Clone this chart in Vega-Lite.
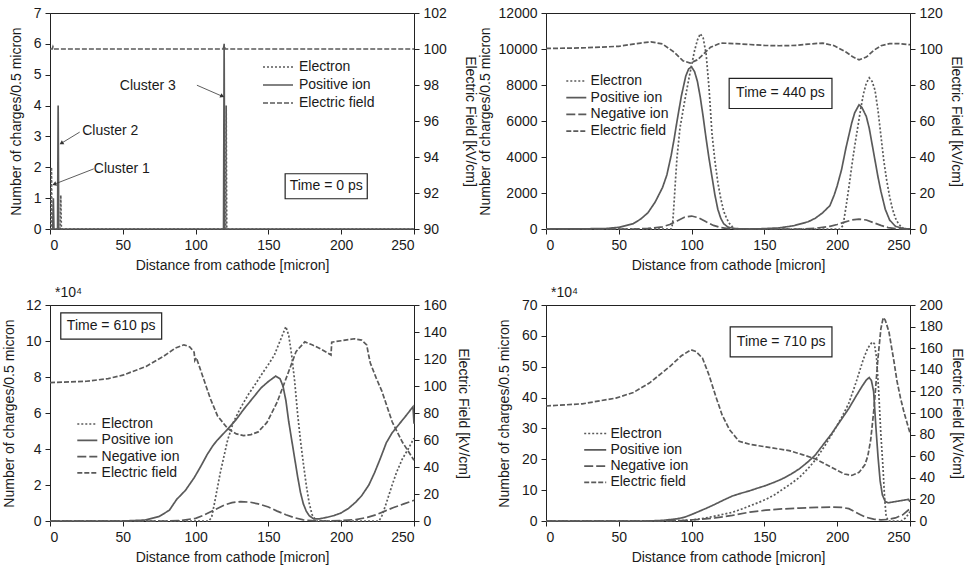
{
"$schema": "https://vega.github.io/schema/vega-lite/v6.json",
"padding": {"left": 1, "top": 5, "right": 2, "bottom": 0},
"columns": 2,
"spacing": {"row": 12, "column": 0},
"resolve": {"scale": {"strokeDash": "independent"}, "legend": {"strokeDash": "independent"}},
"config": {
  "font": "Liberation Sans",
  "view": {"stroke": "#222", "strokeWidth": 1},
  "axis": {"labelFontSize": 14, "titleFontSize": 14, "titleFontWeight": "normal", "labelColor": "#1a1a1a", "titleColor": "#1a1a1a", "domainColor": "#222", "tickColor": "#222", "grid": false, "tickSize": 5, "labelPadding": 4, "labelOverlap": false, "labelFont": "Liberation Sans", "titleFont": "Liberation Sans"},
  "legend": {"labelFont": "Liberation Sans", "labelFontSize": 14, "labelColor": "#1a1a1a", "padding": 0},
  "title": {"font": "Liberation Sans", "fontSize": 14, "fontWeight": "normal", "color": "#1a1a1a"}
},
"datasets": {
"t0": [
{"distance":0,"value":0,"series":"Electron"},{"distance":0.6,"value":0,"series":"Electron"},{"distance":1,"value":2,"series":"Electron"},{"distance":1.4,"value":0,"series":"Electron"},{"distance":7,"value":0,"series":"Electron"},{"distance":7.4,"value":1.1,"series":"Electron"},{"distance":7.8,"value":0,"series":"Electron"},{"distance":120.6,"value":0,"series":"Electron"},{"distance":121,"value":4,"series":"Electron"},{"distance":121.4,"value":0,"series":"Electron"},{"distance":250,"value":0,"series":"Electron"},
{"distance":0,"value":0,"series":"Positive ion"},{"distance":1.9,"value":0,"series":"Positive ion"},{"distance":2.3,"value":1,"series":"Positive ion"},{"distance":2.7,"value":0,"series":"Positive ion"},{"distance":5.2,"value":0,"series":"Positive ion"},{"distance":5.6,"value":4,"series":"Positive ion"},{"distance":6,"value":0,"series":"Positive ion"},{"distance":119.2,"value":0,"series":"Positive ion"},{"distance":119.6,"value":6,"series":"Positive ion"},{"distance":120,"value":0,"series":"Positive ion"},{"distance":250,"value":0,"series":"Positive ion"},
{"distance":0,"value":100,"series":"Electric field"},{"distance":1.5,"value":100,"series":"Electric field"},{"distance":2,"value":100.12,"series":"Electric field"},{"distance":2.5,"value":100,"series":"Electric field"},{"distance":119,"value":100,"series":"Electric field"},{"distance":119.6,"value":100.2,"series":"Electric field"},{"distance":120.2,"value":100,"series":"Electric field"},{"distance":250,"value":100,"series":"Electric field"}
],
"t440": [
{"distance":0,"value":0,"series":"Electron"},{"distance":86,"value":0,"series":"Electron"},{"distance":87,"value":300,"series":"Electron"},{"distance":88,"value":1500,"series":"Electron"},{"distance":89,"value":2800,"series":"Electron"},{"distance":90,"value":4000,"series":"Electron"},{"distance":92,"value":5600,"series":"Electron"},{"distance":95,"value":7000,"series":"Electron"},{"distance":98,"value":8300,"series":"Electron"},{"distance":100,"value":9100,"series":"Electron"},{"distance":102,"value":9900,"series":"Electron"},{"distance":104,"value":10500,"series":"Electron"},{"distance":106,"value":10850,"series":"Electron"},{"distance":108,"value":10600,"series":"Electron"},{"distance":110,"value":9700,"series":"Electron"},{"distance":112,"value":7800,"series":"Electron"},{"distance":114,"value":5300,"series":"Electron"},{"distance":116,"value":3800,"series":"Electron"},{"distance":118,"value":2600,"series":"Electron"},{"distance":120,"value":1700,"series":"Electron"},{"distance":122,"value":1000,"series":"Electron"},{"distance":124,"value":600,"series":"Electron"},{"distance":126,"value":300,"series":"Electron"},{"distance":128,"value":120,"series":"Electron"},{"distance":130,"value":0,"series":"Electron"},{"distance":202,"value":0,"series":"Electron"},{"distance":204,"value":200,"series":"Electron"},{"distance":206,"value":1200,"series":"Electron"},{"distance":208,"value":2300,"series":"Electron"},{"distance":210,"value":3500,"series":"Electron"},{"distance":212,"value":4600,"series":"Electron"},{"distance":214,"value":5600,"series":"Electron"},{"distance":216,"value":6600,"series":"Electron"},{"distance":218,"value":7500,"series":"Electron"},{"distance":220,"value":8100,"series":"Electron"},{"distance":222,"value":8400,"series":"Electron"},{"distance":224,"value":8200,"series":"Electron"},{"distance":226,"value":7700,"series":"Electron"},{"distance":228,"value":6600,"series":"Electron"},{"distance":230,"value":5200,"series":"Electron"},{"distance":232,"value":3800,"series":"Electron"},{"distance":234,"value":2700,"series":"Electron"},{"distance":236,"value":1800,"series":"Electron"},{"distance":238,"value":1100,"series":"Electron"},{"distance":240,"value":600,"series":"Electron"},{"distance":242,"value":300,"series":"Electron"},{"distance":244,"value":120,"series":"Electron"},{"distance":246,"value":0,"series":"Electron"},{"distance":250,"value":0,"series":"Electron"},
{"distance":0,"value":0,"series":"Positive ion"},{"distance":40,"value":20,"series":"Positive ion"},{"distance":50,"value":90,"series":"Positive ion"},{"distance":60,"value":300,"series":"Positive ion"},{"distance":65,"value":550,"series":"Positive ion"},{"distance":70,"value":900,"series":"Positive ion"},{"distance":75,"value":1500,"series":"Positive ion"},{"distance":80,"value":2300,"series":"Positive ion"},{"distance":83,"value":3000,"series":"Positive ion"},{"distance":86,"value":4100,"series":"Positive ion"},{"distance":88,"value":5000,"series":"Positive ion"},{"distance":90,"value":6000,"series":"Positive ion"},{"distance":93,"value":7400,"series":"Positive ion"},{"distance":96,"value":8500,"series":"Positive ion"},{"distance":98,"value":8900,"series":"Positive ion"},{"distance":100,"value":9000,"series":"Positive ion"},{"distance":102,"value":8750,"series":"Positive ion"},{"distance":104,"value":8200,"series":"Positive ion"},{"distance":106,"value":7300,"series":"Positive ion"},{"distance":108,"value":6200,"series":"Positive ion"},{"distance":110,"value":5000,"series":"Positive ion"},{"distance":112,"value":3900,"series":"Positive ion"},{"distance":114,"value":2900,"series":"Positive ion"},{"distance":116,"value":1900,"series":"Positive ion"},{"distance":118,"value":1100,"series":"Positive ion"},{"distance":120,"value":600,"series":"Positive ion"},{"distance":122,"value":300,"series":"Positive ion"},{"distance":125,"value":100,"series":"Positive ion"},{"distance":130,"value":20,"series":"Positive ion"},{"distance":140,"value":0,"series":"Positive ion"},{"distance":150,"value":20,"series":"Positive ion"},{"distance":160,"value":60,"series":"Positive ion"},{"distance":170,"value":180,"series":"Positive ion"},{"distance":180,"value":400,"series":"Positive ion"},{"distance":185,"value":600,"series":"Positive ion"},{"distance":190,"value":900,"series":"Positive ion"},{"distance":195,"value":1300,"series":"Positive ion"},{"distance":198,"value":1900,"series":"Positive ion"},{"distance":200,"value":2400,"series":"Positive ion"},{"distance":203,"value":3300,"series":"Positive ion"},{"distance":206,"value":4500,"series":"Positive ion"},{"distance":208,"value":5200,"series":"Positive ion"},{"distance":210,"value":5900,"series":"Positive ion"},{"distance":212,"value":6450,"series":"Positive ion"},{"distance":215,"value":6900,"series":"Positive ion"},{"distance":217,"value":6750,"series":"Positive ion"},{"distance":220,"value":6250,"series":"Positive ion"},{"distance":222,"value":5600,"series":"Positive ion"},{"distance":224,"value":4700,"series":"Positive ion"},{"distance":226,"value":3800,"series":"Positive ion"},{"distance":228,"value":2900,"series":"Positive ion"},{"distance":230,"value":2100,"series":"Positive ion"},{"distance":233,"value":1100,"series":"Positive ion"},{"distance":236,"value":500,"series":"Positive ion"},{"distance":240,"value":150,"series":"Positive ion"},{"distance":245,"value":30,"series":"Positive ion"},{"distance":250,"value":0,"series":"Positive ion"},
{"distance":0,"value":0,"series":"Negative ion"},{"distance":60,"value":0,"series":"Negative ion"},{"distance":70,"value":30,"series":"Negative ion"},{"distance":80,"value":120,"series":"Negative ion"},{"distance":85,"value":250,"series":"Negative ion"},{"distance":90,"value":450,"series":"Negative ion"},{"distance":95,"value":650,"series":"Negative ion"},{"distance":100,"value":720,"series":"Negative ion"},{"distance":105,"value":620,"series":"Negative ion"},{"distance":110,"value":400,"series":"Negative ion"},{"distance":115,"value":200,"series":"Negative ion"},{"distance":120,"value":80,"series":"Negative ion"},{"distance":125,"value":20,"series":"Negative ion"},{"distance":135,"value":0,"series":"Negative ion"},{"distance":175,"value":0,"series":"Negative ion"},{"distance":185,"value":40,"series":"Negative ion"},{"distance":195,"value":150,"series":"Negative ion"},{"distance":200,"value":250,"series":"Negative ion"},{"distance":205,"value":380,"series":"Negative ion"},{"distance":210,"value":500,"series":"Negative ion"},{"distance":215,"value":550,"series":"Negative ion"},{"distance":220,"value":500,"series":"Negative ion"},{"distance":225,"value":350,"series":"Negative ion"},{"distance":230,"value":200,"series":"Negative ion"},{"distance":235,"value":80,"series":"Negative ion"},{"distance":240,"value":20,"series":"Negative ion"},{"distance":245,"value":0,"series":"Negative ion"},{"distance":250,"value":0,"series":"Negative ion"},
{"distance":0,"value":100.3,"series":"Electric field"},{"distance":25,"value":100.6,"series":"Electric field"},{"distance":50,"value":101.5,"series":"Electric field"},{"distance":65,"value":103.3,"series":"Electric field"},{"distance":72,"value":104,"series":"Electric field"},{"distance":80,"value":102.8,"series":"Electric field"},{"distance":88,"value":98.3,"series":"Electric field"},{"distance":94,"value":93.5,"series":"Electric field"},{"distance":99,"value":92.2,"series":"Electric field"},{"distance":104,"value":94,"series":"Electric field"},{"distance":108.5,"value":97.4,"series":"Electric field"},{"distance":113,"value":101,"series":"Electric field"},{"distance":120,"value":103.3,"series":"Electric field"},{"distance":130,"value":103,"series":"Electric field"},{"distance":140,"value":102.5,"series":"Electric field"},{"distance":150,"value":102,"series":"Electric field"},{"distance":160,"value":101.8,"series":"Electric field"},{"distance":172,"value":102,"series":"Electric field"},{"distance":180,"value":102.7,"series":"Electric field"},{"distance":190,"value":103.3,"series":"Electric field"},{"distance":198,"value":101.8,"series":"Electric field"},{"distance":206,"value":98.3,"series":"Electric field"},{"distance":211,"value":95.5,"series":"Electric field"},{"distance":215,"value":94,"series":"Electric field"},{"distance":220,"value":95.5,"series":"Electric field"},{"distance":225,"value":99.2,"series":"Electric field"},{"distance":230,"value":101.8,"series":"Electric field"},{"distance":236,"value":103,"series":"Electric field"},{"distance":242,"value":103,"series":"Electric field"},{"distance":250,"value":102.4,"series":"Electric field"}
],
"t610": [
{"distance":0,"value":0,"series":"Electron"},{"distance":109,"value":0,"series":"Electron"},{"distance":111,"value":0.2,"series":"Electron"},{"distance":113,"value":1.0,"series":"Electron"},{"distance":117,"value":2.7,"series":"Electron"},{"distance":122,"value":4.5,"series":"Electron"},{"distance":126,"value":5.5,"series":"Electron"},{"distance":131,"value":6.3,"series":"Electron"},{"distance":136,"value":7.0,"series":"Electron"},{"distance":141,"value":7.6,"series":"Electron"},{"distance":145,"value":8.1,"series":"Electron"},{"distance":150,"value":8.7,"series":"Electron"},{"distance":154,"value":9.2,"series":"Electron"},{"distance":158,"value":10.0,"series":"Electron"},{"distance":162,"value":10.8,"series":"Electron"},{"distance":164,"value":10.3,"series":"Electron"},{"distance":166,"value":9.2,"series":"Electron"},{"distance":168,"value":7.8,"series":"Electron"},{"distance":170,"value":6.0,"series":"Electron"},{"distance":172,"value":4.5,"series":"Electron"},{"distance":174,"value":3.2,"series":"Electron"},{"distance":176,"value":2.0,"series":"Electron"},{"distance":178,"value":1.0,"series":"Electron"},{"distance":180,"value":0.35,"series":"Electron"},{"distance":183,"value":0,"series":"Electron"},{"distance":226,"value":0,"series":"Electron"},{"distance":228,"value":0.3,"series":"Electron"},{"distance":231,"value":1.0,"series":"Electron"},{"distance":235,"value":2.0,"series":"Electron"},{"distance":238,"value":2.7,"series":"Electron"},{"distance":242,"value":3.45,"series":"Electron"},{"distance":246,"value":4.0,"series":"Electron"},{"distance":250,"value":4.6,"series":"Electron"},
{"distance":0,"value":0,"series":"Positive ion"},{"distance":50,"value":0,"series":"Positive ion"},{"distance":65,"value":0.05,"series":"Positive ion"},{"distance":75,"value":0.25,"series":"Positive ion"},{"distance":82,"value":0.6,"series":"Positive ion"},{"distance":87,"value":1.2,"series":"Positive ion"},{"distance":93,"value":1.7,"series":"Positive ion"},{"distance":99,"value":2.4,"series":"Positive ion"},{"distance":104,"value":3.1,"series":"Positive ion"},{"distance":108,"value":3.7,"series":"Positive ion"},{"distance":112,"value":4.2,"series":"Positive ion"},{"distance":115,"value":4.5,"series":"Positive ion"},{"distance":122,"value":5.1,"series":"Positive ion"},{"distance":128,"value":5.65,"series":"Positive ion"},{"distance":133,"value":6.2,"series":"Positive ion"},{"distance":139,"value":6.8,"series":"Positive ion"},{"distance":145,"value":7.4,"series":"Positive ion"},{"distance":150,"value":7.75,"series":"Positive ion"},{"distance":155,"value":8.05,"series":"Positive ion"},{"distance":158,"value":7.9,"series":"Positive ion"},{"distance":160,"value":7.5,"series":"Positive ion"},{"distance":162,"value":6.7,"series":"Positive ion"},{"distance":164,"value":5.5,"series":"Positive ion"},{"distance":166,"value":4.5,"series":"Positive ion"},{"distance":168,"value":3.5,"series":"Positive ion"},{"distance":170,"value":2.5,"series":"Positive ion"},{"distance":172,"value":1.6,"series":"Positive ion"},{"distance":174,"value":0.95,"series":"Positive ion"},{"distance":176,"value":0.55,"series":"Positive ion"},{"distance":178,"value":0.3,"series":"Positive ion"},{"distance":181,"value":0.12,"series":"Positive ion"},{"distance":185,"value":0.12,"series":"Positive ion"},{"distance":190,"value":0.2,"series":"Positive ion"},{"distance":195,"value":0.3,"series":"Positive ion"},{"distance":200,"value":0.45,"series":"Positive ion"},{"distance":205,"value":0.7,"series":"Positive ion"},{"distance":210,"value":1.05,"series":"Positive ion"},{"distance":214,"value":1.4,"series":"Positive ion"},{"distance":219,"value":2.0,"series":"Positive ion"},{"distance":223,"value":2.7,"series":"Positive ion"},{"distance":227,"value":3.5,"series":"Positive ion"},{"distance":231,"value":4.35,"series":"Positive ion"},{"distance":235,"value":4.9,"series":"Positive ion"},{"distance":240,"value":5.4,"series":"Positive ion"},{"distance":245,"value":5.9,"series":"Positive ion"},{"distance":249.3,"value":6.35,"series":"Positive ion"},{"distance":250,"value":5.4,"series":"Positive ion"},
{"distance":0,"value":0,"series":"Negative ion"},{"distance":80,"value":0,"series":"Negative ion"},{"distance":90,"value":0.03,"series":"Negative ion"},{"distance":100,"value":0.15,"series":"Negative ion"},{"distance":105,"value":0.3,"series":"Negative ion"},{"distance":110,"value":0.5,"series":"Negative ion"},{"distance":115,"value":0.7,"series":"Negative ion"},{"distance":120,"value":0.9,"series":"Negative ion"},{"distance":125,"value":1.02,"series":"Negative ion"},{"distance":131,"value":1.08,"series":"Negative ion"},{"distance":137,"value":1.05,"series":"Negative ion"},{"distance":143,"value":0.95,"series":"Negative ion"},{"distance":150,"value":0.78,"series":"Negative ion"},{"distance":156,"value":0.55,"series":"Negative ion"},{"distance":162,"value":0.35,"series":"Negative ion"},{"distance":168,"value":0.18,"series":"Negative ion"},{"distance":174,"value":0.06,"series":"Negative ion"},{"distance":180,"value":0.02,"series":"Negative ion"},{"distance":190,"value":0,"series":"Negative ion"},{"distance":200,"value":0.03,"series":"Negative ion"},{"distance":210,"value":0.08,"series":"Negative ion"},{"distance":218,"value":0.2,"series":"Negative ion"},{"distance":224,"value":0.35,"series":"Negative ion"},{"distance":230,"value":0.55,"series":"Negative ion"},{"distance":236,"value":0.75,"series":"Negative ion"},{"distance":243,"value":0.95,"series":"Negative ion"},{"distance":250,"value":1.15,"series":"Negative ion"},
{"distance":0,"value":102.5,"series":"Electric field"},{"distance":25,"value":103.5,"series":"Electric field"},{"distance":40,"value":105.5,"series":"Electric field"},{"distance":50,"value":108,"series":"Electric field"},{"distance":66,"value":114.5,"series":"Electric field"},{"distance":78,"value":122,"series":"Electric field"},{"distance":86,"value":128,"series":"Electric field"},{"distance":92,"value":130.5,"series":"Electric field"},{"distance":96,"value":129,"series":"Electric field"},{"distance":99,"value":125,"series":"Electric field"},{"distance":99.5,"value":119,"series":"Electric field"},{"distance":100.5,"value":121,"series":"Electric field"},{"distance":104,"value":110,"series":"Electric field"},{"distance":110,"value":91,"series":"Electric field"},{"distance":115,"value":78,"series":"Electric field"},{"distance":122,"value":68.5,"series":"Electric field"},{"distance":128,"value":64.5,"series":"Electric field"},{"distance":133,"value":63.3,"series":"Electric field"},{"distance":138,"value":64,"series":"Electric field"},{"distance":143,"value":66,"series":"Electric field"},{"distance":149,"value":73,"series":"Electric field"},{"distance":156,"value":88,"series":"Electric field"},{"distance":163,"value":108,"series":"Electric field"},{"distance":169,"value":125.5,"series":"Electric field"},{"distance":175,"value":132.7,"series":"Electric field"},{"distance":180,"value":130.5,"series":"Electric field"},{"distance":185,"value":128,"series":"Electric field"},{"distance":190,"value":125,"series":"Electric field"},{"distance":193,"value":123,"series":"Electric field"},{"distance":193.5,"value":132.5,"series":"Electric field"},{"distance":200,"value":133.5,"series":"Electric field"},{"distance":209,"value":135,"series":"Electric field"},{"distance":214,"value":134,"series":"Electric field"},{"distance":217.5,"value":130.5,"series":"Electric field"},{"distance":219,"value":122,"series":"Electric field"},{"distance":220,"value":117,"series":"Electric field"},{"distance":224,"value":106,"series":"Electric field"},{"distance":228,"value":96,"series":"Electric field"},{"distance":235,"value":73.5,"series":"Electric field"},{"distance":242,"value":58.5,"series":"Electric field"},{"distance":250,"value":45,"series":"Electric field"}
],
"t710": [
{"distance":0,"value":0,"series":"Electron"},{"distance":85,"value":0,"series":"Electron"},{"distance":100,"value":0.3,"series":"Electron"},{"distance":110,"value":1.0,"series":"Electron"},{"distance":120,"value":2.0,"series":"Electron"},{"distance":128,"value":2.8,"series":"Electron"},{"distance":134,"value":3.8,"series":"Electron"},{"distance":140,"value":4.9,"series":"Electron"},{"distance":146,"value":6.0,"series":"Electron"},{"distance":151,"value":7.0,"series":"Electron"},{"distance":157,"value":8.5,"series":"Electron"},{"distance":162,"value":10.1,"series":"Electron"},{"distance":168,"value":12,"series":"Electron"},{"distance":174,"value":14.1,"series":"Electron"},{"distance":180,"value":17,"series":"Electron"},{"distance":185,"value":19.8,"series":"Electron"},{"distance":191,"value":24,"series":"Electron"},{"distance":197,"value":28.6,"series":"Electron"},{"distance":203,"value":33.5,"series":"Electron"},{"distance":208,"value":38.2,"series":"Electron"},{"distance":213,"value":45,"series":"Electron"},{"distance":218,"value":52.5,"series":"Electron"},{"distance":221,"value":56,"series":"Electron"},{"distance":224,"value":58,"series":"Electron"},{"distance":225.5,"value":57.5,"series":"Electron"},{"distance":227,"value":53,"series":"Electron"},{"distance":228.5,"value":42,"series":"Electron"},{"distance":230,"value":28,"series":"Electron"},{"distance":231.5,"value":17,"series":"Electron"},{"distance":232.5,"value":8,"series":"Electron"},{"distance":233.5,"value":2,"series":"Electron"},{"distance":235,"value":0,"series":"Electron"},{"distance":244,"value":0,"series":"Electron"},{"distance":247,"value":1,"series":"Electron"},{"distance":250,"value":3,"series":"Electron"},
{"distance":0,"value":0,"series":"Positive ion"},{"distance":70,"value":0,"series":"Positive ion"},{"distance":80,"value":0.2,"series":"Positive ion"},{"distance":90,"value":0.7,"series":"Positive ion"},{"distance":95,"value":1.2,"series":"Positive ion"},{"distance":100,"value":2.1,"series":"Positive ion"},{"distance":105,"value":3.1,"series":"Positive ion"},{"distance":110,"value":4.1,"series":"Positive ion"},{"distance":116,"value":5.4,"series":"Positive ion"},{"distance":122,"value":6.8,"series":"Positive ion"},{"distance":128,"value":8.1,"series":"Positive ion"},{"distance":134,"value":9.0,"series":"Positive ion"},{"distance":140,"value":9.8,"series":"Positive ion"},{"distance":145,"value":10.6,"series":"Positive ion"},{"distance":151,"value":11.5,"series":"Positive ion"},{"distance":157,"value":12.6,"series":"Positive ion"},{"distance":162,"value":13.6,"series":"Positive ion"},{"distance":168,"value":15.1,"series":"Positive ion"},{"distance":174,"value":16.9,"series":"Positive ion"},{"distance":180,"value":19.2,"series":"Positive ion"},{"distance":185,"value":21.4,"series":"Positive ion"},{"distance":190,"value":24.5,"series":"Positive ion"},{"distance":196,"value":28.2,"series":"Positive ion"},{"distance":202,"value":32.3,"series":"Positive ion"},{"distance":208,"value":36.5,"series":"Positive ion"},{"distance":213,"value":40.5,"series":"Positive ion"},{"distance":217,"value":43.6,"series":"Positive ion"},{"distance":220,"value":45.7,"series":"Positive ion"},{"distance":222,"value":46.5,"series":"Positive ion"},{"distance":223.5,"value":45.5,"series":"Positive ion"},{"distance":225,"value":42,"series":"Positive ion"},{"distance":226.5,"value":31,"series":"Positive ion"},{"distance":228,"value":21,"series":"Positive ion"},{"distance":229.5,"value":13,"series":"Positive ion"},{"distance":231,"value":8.5,"series":"Positive ion"},{"distance":233,"value":6.3,"series":"Positive ion"},{"distance":235,"value":5.9,"series":"Positive ion"},{"distance":240,"value":6.3,"series":"Positive ion"},{"distance":245,"value":6.7,"series":"Positive ion"},{"distance":249,"value":7.0,"series":"Positive ion"},{"distance":250,"value":6.2,"series":"Positive ion"},
{"distance":0,"value":0,"series":"Negative ion"},{"distance":80,"value":0,"series":"Negative ion"},{"distance":95,"value":0.2,"series":"Negative ion"},{"distance":105,"value":0.5,"series":"Negative ion"},{"distance":116,"value":1.0,"series":"Negative ion"},{"distance":128,"value":1.8,"series":"Negative ion"},{"distance":140,"value":2.9,"series":"Negative ion"},{"distance":151,"value":3.5,"series":"Negative ion"},{"distance":162,"value":3.9,"series":"Negative ion"},{"distance":174,"value":4.2,"series":"Negative ion"},{"distance":186,"value":4.4,"series":"Negative ion"},{"distance":197,"value":4.5,"series":"Negative ion"},{"distance":203,"value":4.4,"series":"Negative ion"},{"distance":208,"value":4.0,"series":"Negative ion"},{"distance":212,"value":3.0,"series":"Negative ion"},{"distance":216,"value":2.0,"series":"Negative ion"},{"distance":220,"value":1.2,"series":"Negative ion"},{"distance":225,"value":0.6,"series":"Negative ion"},{"distance":230,"value":0.35,"series":"Negative ion"},{"distance":235,"value":0.5,"series":"Negative ion"},{"distance":240,"value":1.0,"series":"Negative ion"},{"distance":245,"value":2.0,"series":"Negative ion"},{"distance":250,"value":4.0,"series":"Negative ion"},
{"distance":0,"value":106.5,"series":"Electric field"},{"distance":25,"value":108.5,"series":"Electric field"},{"distance":48,"value":113.8,"series":"Electric field"},{"distance":60,"value":119,"series":"Electric field"},{"distance":71,"value":127.7,"series":"Electric field"},{"distance":85,"value":143,"series":"Electric field"},{"distance":93,"value":153,"series":"Electric field"},{"distance":99.5,"value":158.5,"series":"Electric field"},{"distance":103,"value":157,"series":"Electric field"},{"distance":107.5,"value":150.7,"series":"Electric field"},{"distance":112,"value":135,"series":"Electric field"},{"distance":116.6,"value":115.4,"series":"Electric field"},{"distance":121,"value":98,"series":"Electric field"},{"distance":126,"value":84.6,"series":"Electric field"},{"distance":132.6,"value":73.8,"series":"Electric field"},{"distance":140,"value":71,"series":"Electric field"},{"distance":151,"value":68.6,"series":"Electric field"},{"distance":167,"value":65.2,"series":"Electric field"},{"distance":176,"value":61.5,"series":"Electric field"},{"distance":185,"value":57.5,"series":"Electric field"},{"distance":199,"value":47.7,"series":"Electric field"},{"distance":205,"value":43.5,"series":"Electric field"},{"distance":210,"value":42.2,"series":"Electric field"},{"distance":215,"value":45,"series":"Electric field"},{"distance":219,"value":52,"series":"Electric field"},{"distance":221,"value":60,"series":"Electric field"},{"distance":223,"value":75,"series":"Electric field"},{"distance":225.3,"value":104.6,"series":"Electric field"},{"distance":228,"value":150.7,"series":"Electric field"},{"distance":230,"value":178,"series":"Electric field"},{"distance":231.6,"value":188.3,"series":"Electric field"},{"distance":233,"value":186,"series":"Electric field"},{"distance":235.5,"value":175.4,"series":"Electric field"},{"distance":239,"value":147.7,"series":"Electric field"},{"distance":241,"value":130,"series":"Electric field"},{"distance":243.5,"value":113.8,"series":"Electric field"},{"distance":246,"value":100,"series":"Electric field"},{"distance":250,"value":81.5,"series":"Electric field"}
]
},
"concat": [
{
 "width": 364, "height": 216,
 "layer": [
  {"layer": [
   {"data": {"name": "t0"}, "transform": [{"filter": "datum.series !== 'Electric field'"}],
    "mark": {"type": "line", "strokeWidth": 1.7, "color": "#5a5a5a"},
    "encoding": {
     "x": {"field": "distance", "type": "quantitative", "scale": {"domain": [0, 250], "nice": false}, "axis": {"values": [0,25,50,75,100,125,150,175,200,225,250], "labelOverlap": false, "labelExpr": "datum.value % 50 === 0 ? datum.label : ''", "title": "Distance from cathode [micron]", "titlePadding": 6}},
     "y": {"field": "value", "type": "quantitative", "scale": {"domain": [0, 7], "nice": false}, "axis": {"values": [0,1,2,3,4,5,6,7], "labelOverlap": false, "tickCount": 8, "title": "Number of charges/0.5 micron", "titlePadding": 10}},
     "strokeDash": {"field": "series", "type": "nominal", "scale": {"domain": ["Electron", "Positive ion", "Electric field"], "range": [[2,2],[1,0],[5,2]]}, "legend": {"orient": "none", "legendX": 217, "legendY": 43, "title": null, "symbolType": "M-1.5,0H1.5", "symbolSize": 400, "symbolStrokeWidth": 1.7, "symbolStrokeColor": "#5a5a5a", "symbolFillColor": "transparent", "labelOffset": 10, "rowPadding": -1.5}}
    }},
   {"data": {"values": [{"distance": 161.5, "distance2": 217.9, "value": 0.98, "value2": 1.79}]},
    "mark": {"type": "rect", "fill": "white", "stroke": "#222", "strokeWidth": 1.2},
    "encoding": {"x": {"field": "distance", "type": "quantitative"}, "x2": {"field": "distance2"}, "y": {"field": "value", "type": "quantitative"}, "y2": {"field": "value2"}}},
   {"data": {"values": [{"distance": 189.7, "value": 1.38, "label": "Time = 0 ps"}]},
    "mark": {"type": "text", "fontSize": 14, "color": "#1a1a1a", "baseline": "middle", "align": "center"},
    "encoding": {"x": {"field": "distance", "type": "quantitative"}, "y": {"field": "value", "type": "quantitative"}, "text": {"field": "label"}}},
   {"data": {"values": [{"distance": 49.3, "value": 1.95, "label": "Cluster 1"}, {"distance": 41.4, "value": 3.18, "label": "Cluster 2"}, {"distance": 67.2, "value": 4.63, "label": "Cluster 3"}]},
    "mark": {"type": "text", "fontSize": 14, "color": "#1a1a1a", "baseline": "middle", "align": "center"},
    "encoding": {"x": {"field": "distance", "type": "quantitative"}, "y": {"field": "value", "type": "quantitative"}, "text": {"field": "label"}}},
   {"data": {"values": [{"distance": 30.1, "value": 1.95, "distance2": 3.4, "value2": 1.46}, {"distance": 20.4, "value": 3.14, "distance2": 8.2, "value2": 2.79}, {"distance": 100.9, "value": 4.66, "distance2": 117.9, "value2": 4.31}]},
    "mark": {"type": "rule", "color": "#333", "strokeWidth": 0.8},
    "encoding": {"x": {"field": "distance", "type": "quantitative"}, "x2": {"field": "distance2"}, "y": {"field": "value", "type": "quantitative"}, "y2": {"field": "value2"}}},
   {"data": {"values": [{"distance": 3.4, "value": 1.46}]},
    "mark": {"type": "point", "shape": "triangle", "angle": 249, "size": 22, "filled": true, "color": "#333", "opacity": 1},
    "encoding": {"x": {"field": "distance", "type": "quantitative"}, "y": {"field": "value", "type": "quantitative"}}},
   {"data": {"values": [{"distance": 8.2, "value": 2.79}]},
    "mark": {"type": "point", "shape": "triangle", "angle": 239, "size": 22, "filled": true, "color": "#333", "opacity": 1},
    "encoding": {"x": {"field": "distance", "type": "quantitative"}, "y": {"field": "value", "type": "quantitative"}}},
   {"data": {"values": [{"distance": 117.9, "value": 4.31}]},
    "mark": {"type": "point", "shape": "triangle", "angle": 114, "size": 22, "filled": true, "color": "#333", "opacity": 1},
    "encoding": {"x": {"field": "distance", "type": "quantitative"}, "y": {"field": "value", "type": "quantitative"}}}
  ]},
  {"data": {"name": "t0"}, "transform": [{"filter": "datum.series === 'Electric field'"}],
   "mark": {"type": "line", "strokeWidth": 1.7, "color": "#5a5a5a"},
   "encoding": {
    "x": {"field": "distance", "type": "quantitative"},
    "y": {"field": "value", "type": "quantitative", "scale": {"domain": [90, 102], "nice": false, "zero": false}, "axis": {"orient": "right", "values": [90,92,94,96,98,100,102], "labelOverlap": false, "title": "Electric Field [kV/cm]", "titlePadding": 16}},
    "strokeDash": {"field": "series", "type": "nominal"}
   }}
 ],
 "resolve": {"scale": {"y": "independent"}}
},
{
 "width": 364, "height": 216,
 "layer": [
  {"layer": [
   {"data": {"name": "t440"}, "transform": [{"filter": "datum.series !== 'Electric field'"}],
    "mark": {"type": "line", "strokeWidth": 1.7, "color": "#5a5a5a"},
    "encoding": {
     "x": {"field": "distance", "type": "quantitative", "scale": {"domain": [0, 250], "nice": false}, "axis": {"values": [0,25,50,75,100,125,150,175,200,225,250], "labelOverlap": false, "labelExpr": "datum.value % 50 === 0 ? datum.label : ''", "title": "Distance from cathode [micron]", "titlePadding": 6}},
     "y": {"field": "value", "type": "quantitative", "scale": {"domain": [0, 12000], "nice": false}, "axis": {"values": [0,2000,4000,6000,8000,10000,12000], "labelOverlap": false, "tickCount": 7, "format": "d", "title": "Number of charges/0.5 micron", "titlePadding": 6}},
     "strokeDash": {"field": "series", "type": "nominal", "scale": {"domain": ["Electron", "Positive ion", "Negative ion", "Electric field"], "range": [[2,2],[1,0],[9,3],[5,2]]}, "legend": {"orient": "none", "legendX": 22.3, "legendY": 60, "title": null, "symbolType": "M-1.5,0H1.5", "symbolSize": 178, "symbolStrokeWidth": 1.7, "symbolStrokeColor": "#5a5a5a", "symbolFillColor": "transparent", "labelOffset": 6.3, "rowPadding": 1.7}}
    }},
   {"data": {"values": [{"distance": 125.8, "distance2": 196.4, "value": 6695, "value2": 8365}]},
    "mark": {"type": "rect", "fill": "white", "stroke": "#222", "strokeWidth": 1.2},
    "encoding": {"x": {"field": "distance", "type": "quantitative"}, "x2": {"field": "distance2"}, "y": {"field": "value", "type": "quantitative"}, "y2": {"field": "value2"}}},
   {"data": {"values": [{"distance": 161, "value": 7530, "label": "Time = 440 ps"}]},
    "mark": {"type": "text", "fontSize": 14, "color": "#1a1a1a", "baseline": "middle", "align": "center"},
    "encoding": {"x": {"field": "distance", "type": "quantitative"}, "y": {"field": "value", "type": "quantitative"}, "text": {"field": "label"}}}
  ]},
  {"data": {"name": "t440"}, "transform": [{"filter": "datum.series === 'Electric field'"}],
   "mark": {"type": "line", "strokeWidth": 1.7, "color": "#5a5a5a"},
   "encoding": {
    "x": {"field": "distance", "type": "quantitative"},
    "y": {"field": "value", "type": "quantitative", "scale": {"domain": [0, 120], "nice": false}, "axis": {"orient": "right", "values": [0,20,40,60,80,100,120], "labelOverlap": false, "title": "Electric Field [kV/cm]", "titlePadding": 6}},
    "strokeDash": {"field": "series", "type": "nominal"}
   }}
 ],
 "resolve": {"scale": {"y": "independent"}}
},
{
 "width": 364, "height": 216,
 "title": {"text": "*10⁴", "anchor": "start", "frame": "group", "dx": 5, "offset": -2},
 "layer": [
  {"layer": [
   {"data": {"name": "t610"}, "transform": [{"filter": "datum.series !== 'Electric field'"}],
    "mark": {"type": "line", "strokeWidth": 1.7, "color": "#5a5a5a"},
    "encoding": {
     "x": {"field": "distance", "type": "quantitative", "scale": {"domain": [0, 250], "nice": false}, "axis": {"values": [0,25,50,75,100,125,150,175,200,225,250], "labelOverlap": false, "labelExpr": "datum.value % 50 === 0 ? datum.label : ''", "title": "Distance from cathode [micron]", "titlePadding": 6}},
     "y": {"field": "value", "type": "quantitative", "scale": {"domain": [0, 12], "nice": false}, "axis": {"values": [0,2,4,6,8,10,12], "labelOverlap": false, "tickCount": 7, "title": "Number of charges/0.5 micron", "titlePadding": 9}},
     "strokeDash": {"field": "series", "type": "nominal", "scale": {"domain": ["Electron", "Positive ion", "Negative ion", "Electric field"], "range": [[2,2],[1,0],[9,3],[5,2]]}, "legend": {"orient": "none", "legendX": 29.3, "legendY": 111, "title": null, "symbolType": "M-1.5,0H1.5", "symbolSize": 178, "symbolStrokeWidth": 1.7, "symbolStrokeColor": "#5a5a5a", "symbolFillColor": "transparent", "labelOffset": 6.3, "rowPadding": 1.3}}
    }},
   {"data": {"values": [{"distance": 7.4, "distance2": 76.7, "value": 10.1, "value2": 11.56}]},
    "mark": {"type": "rect", "fill": "white", "stroke": "#222", "strokeWidth": 1.2},
    "encoding": {"x": {"field": "distance", "type": "quantitative"}, "x2": {"field": "distance2"}, "y": {"field": "value", "type": "quantitative"}, "y2": {"field": "value2"}}},
   {"data": {"values": [{"distance": 42, "value": 10.83, "label": "Time = 610 ps"}]},
    "mark": {"type": "text", "fontSize": 14, "color": "#1a1a1a", "baseline": "middle", "align": "center"},
    "encoding": {"x": {"field": "distance", "type": "quantitative"}, "y": {"field": "value", "type": "quantitative"}, "text": {"field": "label"}}}
  ]},
  {"data": {"name": "t610"}, "transform": [{"filter": "datum.series === 'Electric field'"}],
   "mark": {"type": "line", "strokeWidth": 1.7, "color": "#5a5a5a"},
   "encoding": {
    "x": {"field": "distance", "type": "quantitative"},
    "y": {"field": "value", "type": "quantitative", "scale": {"domain": [0, 160], "nice": false}, "axis": {"orient": "right", "values": [0,20,40,60,80,100,120,140,160], "labelOverlap": false, "title": "Electric Field [kV/cm]", "titlePadding": 9}},
    "strokeDash": {"field": "series", "type": "nominal"}
   }}
 ],
 "resolve": {"scale": {"y": "independent"}}
},
{
 "width": 364, "height": 216,
 "title": {"text": "*10⁴", "anchor": "start", "frame": "group", "dx": 5, "offset": -2},
 "layer": [
  {"layer": [
   {"data": {"name": "t710"}, "transform": [{"filter": "datum.series !== 'Electric field'"}],
    "mark": {"type": "line", "strokeWidth": 1.7, "color": "#5a5a5a"},
    "encoding": {
     "x": {"field": "distance", "type": "quantitative", "scale": {"domain": [0, 250], "nice": false}, "axis": {"values": [0,25,50,75,100,125,150,175,200,225,250], "labelOverlap": false, "labelExpr": "datum.value % 50 === 0 ? datum.label : ''", "title": "Distance from cathode [micron]", "titlePadding": 6}},
     "y": {"field": "value", "type": "quantitative", "scale": {"domain": [0, 70], "nice": false}, "axis": {"values": [0,10,20,30,40,50,60,70], "labelOverlap": false, "tickCount": 8, "title": "Number of charges/0.5 micron", "titlePadding": 10}},
     "strokeDash": {"field": "series", "type": "nominal", "scale": {"domain": ["Electron", "Positive ion", "Negative ion", "Electric field"], "range": [[2,2],[1,0],[9,3],[5,2]]}, "legend": {"orient": "none", "legendX": 40.7, "legendY": 120, "title": null, "symbolType": "M-1.5,0H1.5", "symbolSize": 215, "symbolStrokeWidth": 1.7, "symbolStrokeColor": "#5a5a5a", "symbolFillColor": "transparent", "labelOffset": 6.7, "rowPadding": 0.3}}
    }},
   {"data": {"values": [{"distance": 126.5, "distance2": 196.4, "value": 53.2, "value2": 62.9}]},
    "mark": {"type": "rect", "fill": "white", "stroke": "#222", "strokeWidth": 1.2},
    "encoding": {"x": {"field": "distance", "type": "quantitative"}, "x2": {"field": "distance2"}, "y": {"field": "value", "type": "quantitative"}, "y2": {"field": "value2"}}},
   {"data": {"values": [{"distance": 161.5, "value": 58, "label": "Time = 710 ps"}]},
    "mark": {"type": "text", "fontSize": 14, "color": "#1a1a1a", "baseline": "middle", "align": "center"},
    "encoding": {"x": {"field": "distance", "type": "quantitative"}, "y": {"field": "value", "type": "quantitative"}, "text": {"field": "label"}}}
  ]},
  {"data": {"name": "t710"}, "transform": [{"filter": "datum.series === 'Electric field'"}],
   "mark": {"type": "line", "strokeWidth": 1.7, "color": "#5a5a5a"},
   "encoding": {
    "x": {"field": "distance", "type": "quantitative"},
    "y": {"field": "value", "type": "quantitative", "scale": {"domain": [0, 200], "nice": false}, "axis": {"orient": "right", "values": [0,20,40,60,80,100,120,140,160,180,200], "labelOverlap": false, "title": "Electric Field [kV/cm]", "titlePadding": 7}},
    "strokeDash": {"field": "series", "type": "nominal"}
   }}
 ],
 "resolve": {"scale": {"y": "independent"}}
}
]
}
